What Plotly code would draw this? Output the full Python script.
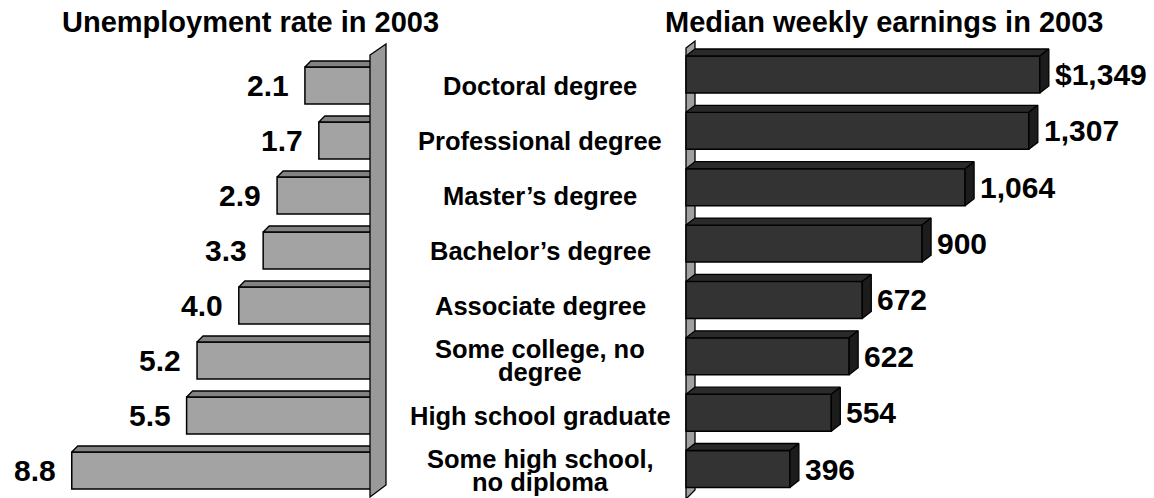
import plotly.graph_objects as go

# ---------------- data ----------------
categories = ["Doctoral degree", "Professional degree", "Master\u2019s degree",
              "Bachelor\u2019s degree", "Associate degree", "Some college, no<br>degree",
              "High school graduate", "Some high school,<br>no diploma"]
unemployment = [2.1, 1.7, 2.9, 3.3, 4.0, 5.2, 5.5, 8.8]
unemp_labels = ["2.1", "1.7", "2.9", "3.3", "4.0", "5.2", "5.5", "8.8"]
earnings = [1349, 1307, 1064, 900, 672, 622, 554, 396]
earn_labels = ["$1,349", "1,307", "1,064", "900", "672", "622", "554", "396"]
title_left = "Unemployment rate in 2003"
title_right = "Median weekly earnings in 2003"

# ---------------- geometry (pixel <-> axis) ----------------
W, H = 1154, 498
FONT = "Liberation Sans, Arial, sans-serif"

# left panel
L_DOM = (0, 400)          # px
L_ZERO = 378.0            # px position of value 0
L_PPU = 34.8              # px per unit
L_ROW0, L_PITCH = 85.5, 55.0
L_BARH = 37.0
L_DX, L_DY = 6.0, 6.0     # 3D depth in px (right, up)

# right panel
R_DOM = (660, W)
R_ZERO = 686.0
R_PPU = 0.2623
R_ROW0, R_PITCH = 74.5, 56.36
R_BARH = 37.0
R_DX, R_DY = 9.0, 7.0

n = len(categories)
idx = list(range(n))

l_range = [(L_ZERO - L_DOM[0]) / L_PPU, (L_ZERO - L_DOM[1]) / L_PPU]   # reversed
r_range = [(R_DOM[0] - R_ZERO) / R_PPU, (R_DOM[1] - R_ZERO) / R_PPU]
l_yrange = [(H - L_ROW0) / L_PITCH, (0 - L_ROW0) / L_PITCH]
r_yrange = [(H - R_ROW0) / R_PITCH, (0 - R_ROW0) / R_PITCH]

lw = L_BARH / L_PITCH
rw = R_BARH / R_PITCH
ldx, ldy = L_DX / L_PPU, L_DY / L_PITCH
rdx, rdy = R_DX / R_PPU, R_DY / R_PITCH

fig = go.Figure()

# ---- left: front faces
fig.add_trace(go.Bar(
    x=unemployment, y=idx, orientation="h", width=lw, base=0,
    marker=dict(color="#a3a3a3", line=dict(color="black", width=1.5)),
    xaxis="x", yaxis="y", hoverinfo="skip", showlegend=False))

# ---- left: top faces
tx, ty = [], []
for i, v in enumerate(unemployment):
    yt = i - lw / 2
    tx += [v, v - ldx, 0, 0, v, None]
    ty += [yt, yt - ldy, yt - ldy, yt, yt, None]
fig.add_trace(go.Scatter(
    x=tx, y=ty, mode="lines", fill="toself", fillcolor="#828282",
    line=dict(color="black", width=1.3), xaxis="x", yaxis="y",
    hoverinfo="skip", showlegend=False))

# ---- right: front faces
fig.add_trace(go.Bar(
    x=earnings, y=idx, orientation="h", width=rw, base=0,
    marker=dict(color="#333333", line=dict(color="black", width=1.5)),
    xaxis="x2", yaxis="y2", hoverinfo="skip", showlegend=False))

# ---- right: top faces and side faces
tx, ty, sx, sy = [], [], [], []
for i, v in enumerate(earnings):
    yt = i - rw / 2
    yb = i + rw / 2
    tx += [0, rdx, v + rdx, v, 0, None]
    ty += [yt, yt - rdy, yt - rdy, yt, yt, None]
    sx += [v, v + rdx, v + rdx, v, v, None]
    sy += [yt, yt - rdy, yb - rdy, yb, yt, None]
fig.add_trace(go.Scatter(
    x=tx, y=ty, mode="lines", fill="toself", fillcolor="#2a2a2a",
    line=dict(color="black", width=1.3), xaxis="x2", yaxis="y2",
    hoverinfo="skip", showlegend=False))
fig.add_trace(go.Scatter(
    x=sx, y=sy, mode="lines", fill="toself", fillcolor="#1c1c1c",
    line=dict(color="black", width=1.3), xaxis="x2", yaxis="y2",
    hoverinfo="skip", showlegend=False))

# ---- axis walls (decoration, anchored to each axis' zero)
def lx(px_off):  # px offset right of zero -> left axis units
    return -px_off / L_PPU

def ly(py):
    return (py - L_ROW0) / L_PITCH

lwall = [(lx(-8), ly(55)), (lx(8), ly(44)), (lx(8), ly(485)), (lx(-8), ly(497))]
fig.add_shape(type="path", xref="x", yref="y", layer="above",
              path="M " + " L ".join(f"{a},{b}" for a, b in lwall) + " Z",
              fillcolor="#999999", line=dict(color="black", width=1.3))

def rx(px_off):
    return px_off / R_PPU

def ry(py):
    return (py - R_ROW0) / R_PITCH

rwall = [(rx(0), ry(48)), (rx(9), ry(41)), (rx(9), ry(490)), (rx(0), ry(499))]
fig.add_shape(type="path", xref="x2", yref="y2", layer="below",
              path="M " + " L ".join(f"{a},{b}" for a, b in rwall) + " Z",
              fillcolor="#a0a0a0", line=dict(color="black", width=1.3))

# ---- annotations
VAL_SIZE, CAT_SIZE, TITLE_SIZE = 30, 25.5, 29
ann = []
for i, (v, t) in enumerate(zip(unemployment, unemp_labels)):
    ann.append(dict(x=v, y=i, xref="x", yref="y", text=t, showarrow=False,
                    xanchor="right", yanchor="middle", xshift=-14,
                    font=dict(family=FONT, size=VAL_SIZE, color="black", weight="bold")))
for i, (v, t) in enumerate(zip(earnings, earn_labels)):
    ann.append(dict(x=v, y=i, xref="x2", yref="y2", text=t, showarrow=False,
                    xanchor="left", yanchor="middle", xshift=13,
                    font=dict(family=FONT, size=VAL_SIZE, color="black", weight="bold")))
for i, c in enumerate(categories):
    lines = c.split("<br>")
    k = len(lines)
    for j, line in enumerate(lines):
        ann.append(dict(x=540 / W, y=i, xref="paper", yref="y", text=line,
                        showarrow=False, xanchor="center", yanchor="middle",
                        yshift=-(j - (k - 1) / 2) * 23,
                        font=dict(family=FONT, size=CAT_SIZE, color="black", weight="bold")))
ann.append(dict(x=250 / W, y=1 - 22 / H, xref="paper", yref="paper", text=title_left,
                showarrow=False, xanchor="center", yanchor="middle",
                font=dict(family=FONT, size=TITLE_SIZE, color="black", weight="bold")))
ann.append(dict(x=884 / W, y=1 - 22 / H, xref="paper", yref="paper", text=title_right,
                showarrow=False, xanchor="center", yanchor="middle",
                font=dict(family=FONT, size=TITLE_SIZE, color="black", weight="bold")))

ax_common = dict(visible=False, showgrid=False, zeroline=False, fixedrange=True)
fig.update_layout(
    width=W, height=H, margin=dict(l=0, r=0, t=0, b=0),
    paper_bgcolor="white", plot_bgcolor="rgba(0,0,0,0)",
    barmode="overlay", showlegend=False, hovermode=False,
    xaxis=dict(domain=[L_DOM[0] / W, L_DOM[1] / W], range=l_range, anchor="y", **ax_common),
    yaxis=dict(domain=[0, 1], range=l_yrange, anchor="x", **ax_common),
    xaxis2=dict(domain=[R_DOM[0] / W, R_DOM[1] / W], range=r_range, anchor="y2", **ax_common),
    yaxis2=dict(domain=[0, 1], range=r_yrange, anchor="x2", **ax_common),
    annotations=ann,
)

fig.write_html("out.html", config={"displayModeBar": False},
               post_script="document.body.style.margin='0';document.body.style.overflow='hidden';")
